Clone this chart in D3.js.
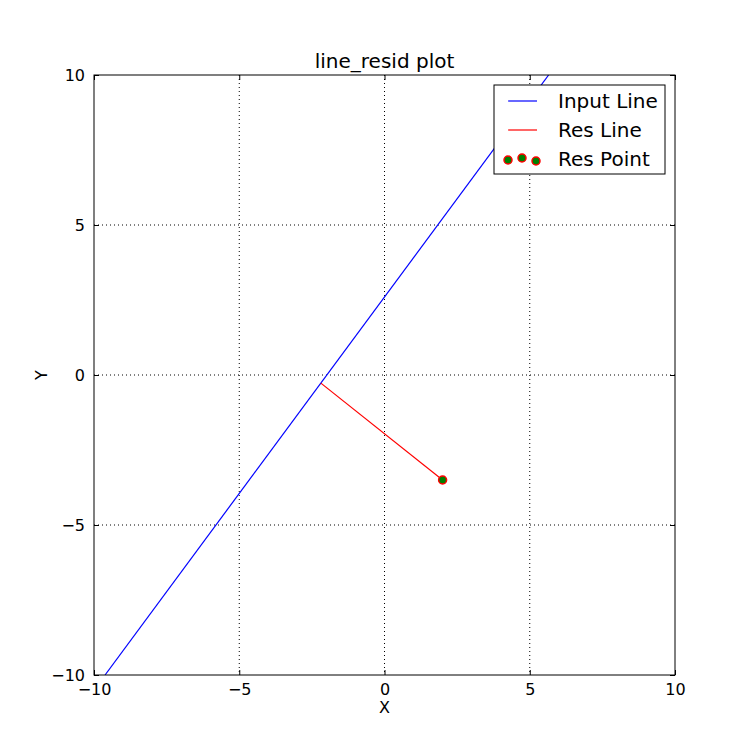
<!DOCTYPE html>
<html>
<head>
<meta charset="utf-8">
<script src="https://cdn.jsdelivr.net/npm/d3@7"></script>
<style>
  body { margin: 0; background: white; }
  text { font-family: "DejaVu Sans", sans-serif; }
</style>
</head>
<body>
<div id="app"></div>
<script>
const WIDTH = 750
const HEIGHT = 750
const margin = { top: 75, right: 75, bottom: 75, left: 94 }

// data
const inputLineX = [-9.62, 5.65]
const inputLineY = [-10, 10]
const resLineX = [-2.19, 2.0]
const resLineY = [-0.27, -3.5]
const resPointX = [2.0]
const resPointY = [-3.5]
const ticks = [-10, -5, 0, 5, 10]
const legendLabels = ['Input Line', 'Res Line', 'Res Point']

const x = d3.scaleLinear().domain([-10, 10]).range([margin.left, WIDTH - margin.right])
const y = d3.scaleLinear().domain([-10, 10]).range([HEIGHT - margin.bottom, margin.top])

const svg = d3.select('#app').append('svg')
  .attr('width', WIDTH)
  .attr('height', HEIGHT)

const inner = svg.append('g')
const x0 = x.range()[0], x1 = x.range()[1], y0 = y.range()[1], y1 = y.range()[0]

svg.append('defs').append('clipPath').attr('id', 'clip')
  .append('rect').attr('x', x0).attr('y', y0).attr('width', x1 - x0).attr('height', y1 - y0)

// grid
inner.selectAll('line.gx').data(ticks.slice(1, -1)).enter().append('line')
  .attr('x1', d => x(d)).attr('x2', d => x(d)).attr('y1', y0).attr('y2', y1)
  .attr('stroke', 'black').attr('stroke-width', 1).attr('stroke-dasharray', '1,3')
inner.selectAll('line.gy').data(ticks.slice(1, -1)).enter().append('line')
  .attr('y1', d => y(d)).attr('y2', d => y(d)).attr('x1', x0).attr('x2', x1)
  .attr('stroke', 'black').attr('stroke-width', 1).attr('stroke-dasharray', '1,3')

const plot = inner.append('g').attr('clip-path', 'url(#clip)')
const line = d3.line().x(d => x(d[0])).y(d => y(d[1]))

plot.append('path')
  .attr('d', line(d3.zip(inputLineX, inputLineY)))
  .attr('stroke', 'blue').attr('fill', 'none').attr('stroke-width', 1.2)
plot.append('path')
  .attr('d', line(d3.zip(resLineX, resLineY)))
  .attr('stroke', 'red').attr('fill', 'none').attr('stroke-width', 1.2)
plot.selectAll('circle.pt').data(d3.zip(resPointX, resPointY)).enter().append('circle')
  .attr('cx', d => x(d[0])).attr('cy', d => y(d[1])).attr('r', 4)
  .attr('fill', 'green').attr('stroke', 'red').attr('stroke-width', 1.5)

// axes: inward ticks on all sides
const fmt = d => d < 0 ? '\u2212' + Math.abs(d) : d
const axB = d3.axisBottom(x).tickValues(ticks).tickSizeInner(-5).tickSizeOuter(0).tickPadding(9).tickFormat(fmt)
const axL = d3.axisLeft(y).tickValues(ticks).tickSizeInner(-5).tickSizeOuter(0).tickPadding(9).tickFormat(fmt)
const axT = d3.axisTop(x).tickValues(ticks).tickSizeInner(-5).tickSizeOuter(0).tickFormat('')
const axR = d3.axisRight(y).tickValues(ticks).tickSizeInner(-5).tickSizeOuter(0).tickFormat('')

const styleAxis = g => {
  g.select('.domain').remove()
  g.selectAll('line').attr('stroke', 'black')
  g.selectAll('text').attr('font-size', 16).attr('fill', 'black').attr('font-family', 'DejaVu Sans')
}
svg.append('g').attr('transform', `translate(0,${y1})`).call(axB).call(styleAxis)
svg.append('g').attr('transform', `translate(${x0},0)`).call(axL).call(styleAxis)
svg.append('g').attr('transform', `translate(0,${y0})`).call(axT).call(styleAxis)
svg.append('g').attr('transform', `translate(${x1},0)`).call(axR).call(styleAxis)

svg.append('rect').attr('x', x0).attr('y', y0).attr('width', x1 - x0).attr('height', y1 - y0)
  .attr('fill', 'none').attr('stroke', 'black').attr('stroke-width', 1)

// labels
svg.append('text').attr('x', (x0 + x1) / 2).attr('y', 68).attr('text-anchor', 'middle')
  .attr('font-size', 20).text('line_resid plot')
svg.append('text').attr('x', (x0 + x1) / 2).attr('y', 713).attr('text-anchor', 'middle')
  .attr('font-size', 16).text('X')
svg.append('text').attr('transform', `translate(47,${(y0 + y1) / 2}) rotate(-90)`).attr('text-anchor', 'middle')
  .attr('font-size', 16).text('Y')

// legend
const lg = svg.append('g').attr('transform', 'translate(494,85)')
lg.append('rect').attr('width', 171).attr('height', 89).attr('fill', 'white').attr('stroke', 'black').attr('stroke-width', 1)
const rowY = i => 16 + i * 29
lg.append('line').attr('x1', 14).attr('x2', 43).attr('y1', rowY(0)).attr('y2', rowY(0)).attr('stroke', 'blue').attr('stroke-width', 1.2)
lg.append('line').attr('x1', 14).attr('x2', 43).attr('y1', rowY(1)).attr('y2', rowY(1)).attr('stroke', 'red').attr('stroke-width', 1.2)
lg.selectAll('circle').data([[14, 1], [28, -1], [42, 2]]).enter().append('circle')
  .attr('cx', d => d[0]).attr('cy', d => rowY(2) + d[1]).attr('r', 4)
  .attr('fill', 'green').attr('stroke', 'red').attr('stroke-width', 1.5)
lg.selectAll('text').data(legendLabels).enter().append('text')
  .attr('x', 64).attr('y', (d, i) => rowY(i) + 7).attr('font-size', 20).text(d => d)
</script>
</body>
</html>
